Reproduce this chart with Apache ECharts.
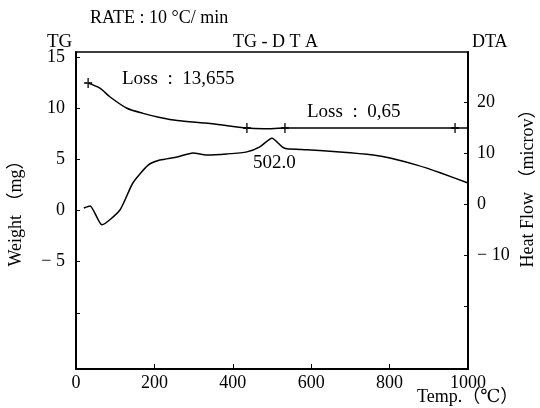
<!DOCTYPE html>
<html lang="en">
<head>
    <meta charset="utf-8">
    <title>TG-DTA</title>
    <script src="https://cdn.jsdelivr.net/npm/echarts@6/dist/echarts.min.js"></script>
    <style>
        html, body, #chart {
            width: 540px;
            height: 408px;
            margin: 0;
            padding: 0;
            overflow: hidden;
            background-color: #ffffff;
        }
    </style>
</head>
<body>
    <div id="chart"></div>
    <script>
        // TG curve (weight, mg)
        var tgTemp = [31, 61, 87, 130, 171, 214, 258, 342, 436, 480, 533, 700, 967, 1000];
        var tgWeight = [12.46, 11.97, 11.1, 10.0, 9.5, 9.1, 8.8, 8.5, 8.06, 8.0, 8.06, 8.06, 8.06, 8.06];
        // "+" marks on the TG curve
        var markTemp = [31, 436, 533, 967];
        var markWeight = [12.46, 8.06, 8.06, 8.06];

        // DTA curve (heat flow, microv)
        var dtaTemp = [20, 36, 66, 112, 145, 184, 214, 258, 298, 334, 385, 436, 469, 500, 526, 538, 589, 673, 758, 801, 870, 929, 1000];
        var dtaHeat = [-0.8, -0.4, -4.1, -1.2, 4.1, 7.6, 8.6, 9.2, 10.0, 9.6, 9.8, 10.2, 11.2, 12.9, 11.2, 10.8, 10.6, 10.2, 9.6, 9.0, 7.6, 6.1, 4.1];

        var xTicks = [0, 200, 400, 600, 800, 1000];
        var leftTicks = [-10, -5, 0, 5, 10, 15];
        var leftLabels = [-5, 0, 5, 10, 15];
        var rightTicks = [-20, -10, 0, 10, 20];
        var rightLabels = [-10, 0, 10, 20];

        var serif = '"Liberation Serif", "DejaVu Serif", "Noto Sans CJK SC", serif';

        function zip(a, b) {
            var out = [];
            for (var i = 0; i < a.length; i++) out.push([a[i], b[i]]);
            return out;
        }

        function plain(v) {
            return v < 0 ? '\u2212 ' + (-v) : String(v);
        }

        function label(text, x, y, size, extra) {
            var el = {
                type: 'text', x: x, y: y,
                style: { text: text, font: size + 'px ' + serif, fill: '#000', textVerticalAlign: 'middle' }
            };
            if (extra) {
                for (var k in extra) el[k] = extra[k];
                if (extra.textAlign) el.style.textAlign = extra.textAlign;
            }
            return el;
        }

        var myChart = echarts.init(document.getElementById('chart'));

        var option = {
            animation: false,
            backgroundColor: '#fff',
            textStyle: { fontFamily: serif, color: '#000' },
            grid: {
                left: 76, right: 72, top: 52, bottom: 39,
                outerBoundsMode: 'none',
                show: true, borderColor: '#000', borderWidth: 1.5
            },
            xAxis: {
                type: 'value', min: 0, max: 1000,
                axisLine: { show: true, onZero: false, lineStyle: { color: '#000', width: 2 } },
                axisTick: { show: true, inside: true, length: 5, customValues: xTicks, lineStyle: { color: '#000' } },
                axisLabel: { customValues: xTicks, formatter: plain, color: '#000', fontFamily: serif, fontSize: 18, margin: 5 },
                splitLine: { show: false }
            },
            yAxis: [
                {
                    type: 'value', min: -15.5, max: 15.5, position: 'left',
                    axisLine: { show: true, onZero: false, lineStyle: { color: '#000', width: 2 } },
                    axisTick: { show: true, inside: true, length: 4, customValues: leftTicks, lineStyle: { color: '#000' } },
                    axisLabel: { customValues: leftLabels, formatter: plain, color: '#000', fontFamily: serif, fontSize: 18, margin: 11 },
                    splitLine: { show: false }
                },
                {
                    type: 'value', min: -32.4, max: 29.8, position: 'right',
                    axisLine: { show: true, onZero: false, lineStyle: { color: '#000', width: 2 } },
                    axisTick: { show: true, inside: true, length: 4, customValues: rightTicks, lineStyle: { color: '#000' } },
                    axisLabel: { customValues: rightLabels, formatter: plain, color: '#000', fontFamily: serif, fontSize: 18, margin: 9 },
                    splitLine: { show: false }
                }
            ],
            series: [
                {
                    name: 'TG', type: 'line', yAxisIndex: 0, smooth: 0.25,
                    showSymbol: false,
                    lineStyle: { color: '#000', width: 1.5 },
                    data: zip(tgTemp, tgWeight)
                },
                {
                    name: 'TG mark', type: 'scatter', yAxisIndex: 0,
                    symbol: 'path://M4,0 L6,0 L6,4 L10,4 L10,6 L6,6 L6,10 L4,10 L4,6 L0,6 L0,4 L4,4 Z',
                    symbolSize: [8, 10],
                    itemStyle: { color: '#000' },
                    data: zip(markTemp, markWeight)
                },
                {
                    name: 'DTA', type: 'line', yAxisIndex: 1, smooth: 0.2,
                    showSymbol: false,
                    lineStyle: { color: '#000', width: 1.5 },
                    data: zip(dtaTemp, dtaHeat)
                }
            ],
            graphic: [
                label('RATE : 10 °C/ min', 90, 18, 18),
                label('TG', 47, 42, 19),
                label('TG - D T A', 233, 42, 18),
                label('DTA', 472, 42, 18),
                label('Loss  :  13,655', 122, 79, 19),
                label('Loss  :  0,65', 307, 112, 19),
                label('502.0', 253, 163, 19),
                label('Temp.（℃）', 417, 397, 18),
                label('Weight （mg）', 16, 209, 18, { rotation: Math.PI / 2, textAlign: 'center' }),
                label('Heat Flow （microv）', 528, 184, 18, { rotation: Math.PI / 2, textAlign: 'center' })
            ]
        };

        myChart.setOption(option);
    </script>
</body>
</html>
